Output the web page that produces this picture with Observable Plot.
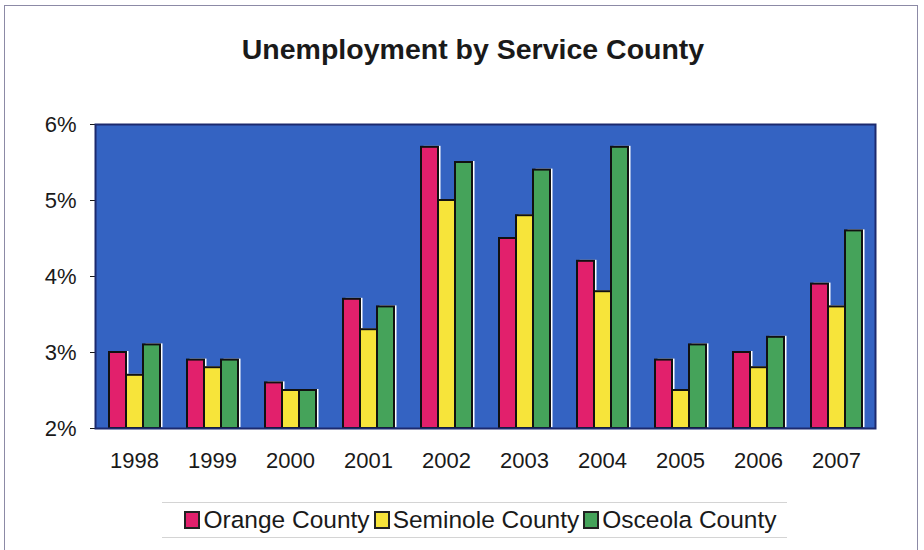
<!DOCTYPE html>
<html>
<head>
<meta charset="utf-8">
<script src="https://cdn.jsdelivr.net/npm/d3@7"></script>
<script src="https://cdn.jsdelivr.net/npm/@observablehq/plot@0.6"></script>
<style>
  html, body { margin: 0; padding: 0; background: #fff; }
  body { width: 924px; height: 550px; position: relative; overflow: hidden; font-family: Arial, "Liberation Sans", sans-serif; }
  #border { position: absolute; left: 4px; top: 5px; width: 914px; height: 560px; border: 1.5px solid #8c8aa6; box-sizing: border-box; pointer-events: none; }
  #title { height: 98px; line-height: 98px; text-align: center; padding-left: 22px; font-size: 28.5px; font-weight: bold; color: #1a1a1a; box-sizing: border-box; }
  #legend { position: absolute; left: 162px; top: 502px; width: 625px; height: 36px; border-top: 1px solid #d4d4d4; border-bottom: 1px solid #d4d4d4; display: flex; align-items: center; justify-content: center; font-size: 24.5px; color: #1a1a1a; padding-left: 16px; box-sizing: border-box; }
  .item { display: flex; align-items: center; margin-right: 4px; white-space: nowrap; }
  .sw { width: 12px; height: 14px; border: 2px solid #222; margin-right: 3px; }
</style>
</head>
<body>
<div id="border"></div>
<div id="title">Unemployment by Service County</div>
<div id="chart"></div>
<div id="legend"></div>
<script>
const years = ["1998","1999","2000","2001","2002","2003","2004","2005","2006","2007"];
const counties = ["Orange County","Seminole County","Osceola County"];
const orange   = [3.0, 2.9, 2.6, 3.7, 5.7, 4.5, 4.2, 2.9, 3.0, 3.9];
const seminole = [2.7, 2.8, 2.5, 3.3, 5.0, 4.8, 3.8, 2.5, 2.8, 3.6];
const osceola  = [3.1, 2.9, 2.5, 3.6, 5.5, 5.4, 5.7, 3.1, 3.2, 4.6];
const yTicks = [2, 3, 4, 5, 6];
const colors = ["#e2206c", "#f7e43a", "#45a35a"];

const series = [orange, seminole, osceola];
const data = [];
years.forEach((yr, i) => counties.forEach((c, j) => data.push({year: yr, county: c, value: series[j][i]})));

const chart = Plot.plot({
  width: 924,
  height: 392,
  marginTop: 26,
  marginBottom: 62,
  marginLeft: 92,
  marginRight: 46,
  style: {fontFamily: "Arial, 'Liberation Sans', sans-serif", fontSize: "22px", color: "#1a1a1a", background: "transparent"},
  fx: {domain: years, padding: 0, label: null, axis: null},
  x: {domain: counties, paddingInner: 0, paddingOuter: 0.77, axis: null},
  y: {domain: [2, 6], ticks: yTicks, tickFormat: d => d + "%", label: null, tickSize: 5, tickPadding: 14},
  color: {domain: counties, range: colors},
  marks: [
    Plot.frame({fill: "#3463c2", facet: "super"}),
    Plot.barY(data, {fx: "year", x: "county", y1: 2, y2: "value", fill: "white", dx: 2.5, dy: -1}),
    Plot.barY(data, {fx: "year", x: "county", y1: 2, y2: "value", fill: "county", stroke: "#111", strokeWidth: 2}),
    Plot.frame({stroke: "#1c2a6e", strokeWidth: 2, facet: "super"}),
    Plot.axisFx({domain: years, anchor: "bottom", tickSize: 0, tickPadding: 24, label: null, fontSize: 22})
  ]
});
document.getElementById("chart").appendChild(chart);

const legend = document.getElementById("legend");
counties.forEach((c, j) => {
  const it = document.createElement("div");
  it.className = "item";
  const sw = document.createElement("div");
  sw.className = "sw";
  sw.style.background = colors[j];
  it.appendChild(sw);
  const t = document.createElement("span");
  t.textContent = c;
  it.appendChild(t);
  legend.appendChild(it);
});
</script>
</body>
</html>
